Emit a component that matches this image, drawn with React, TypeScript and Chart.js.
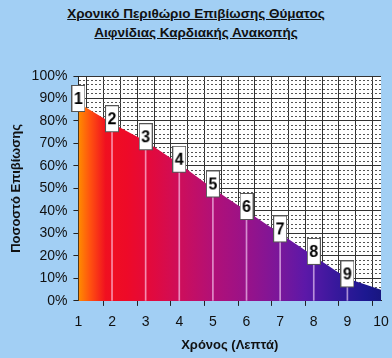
import React, { useEffect, useRef } from 'react';
import { Chart, registerables } from 'chart.js';
Chart.register(...registerables);

const titleLines = ['Χρονικό Περιθώριο Επιβίωσης Θύματος', 'Αιφνίδιας Καρδιακής Ανακοπής'];
const xTitle = 'Χρόνος (Λεπτά)';
const yTitle = 'Ποσοστό Επιβίωσης';
const minutes = [1, 2, 3, 4, 5, 6, 7, 8, 9, 10];
const survival = [88, 79, 71, 61, 50, 40, 30, 20, 10, 5];
const badgeMinutes = [1, 2, 3, 4, 5, 6, 7, 8, 9];
const badgeTexts = ['1', '2', '3', '4', '5', '6', '7', '8', '9'];
const markerMinutes = [2, 3, 4, 5, 6, 7, 8, 9];

const BG = '#a2cff4';

function makeBadge(text: string): HTMLCanvasElement {
  const c = document.createElement('canvas');
  c.width = 14;
  c.height = 36;
  const g = c.getContext('2d')!;
  g.fillStyle = '#ffffff';
  g.fillRect(0, 0, 14, 27);
  g.strokeStyle = '#555555';
  g.lineWidth = 1;
  g.strokeRect(0.5, 0.5, 13, 26);
  g.fillStyle = '#000000';
  g.font = 'bold 16px "Liberation Sans", Arial, sans-serif';
  g.textAlign = 'center';
  g.textBaseline = 'middle';
  g.fillText(text, 7, 14.5);
  return c;
}

function valueAt(m: number): number {
  return survival[minutes.indexOf(m)];
}

export default function App() {
  const ref = useRef<HTMLCanvasElement | null>(null);
  useEffect(() => {
    const badges = badgeTexts.map(makeBadge);
    const whiteArea = {
      id: 'whiteArea',
      beforeDraw(chart: any) {
        const { ctx, chartArea: a } = chart;
        ctx.save();
        ctx.fillStyle = '#ffffff';
        ctx.fillRect(a.left, a.top, a.right - a.left, a.bottom - a.top);
        ctx.restore();
      },
    };
    const chart = new Chart(ref.current!, {
      type: 'line',
      data: {
        datasets: [
          {
            type: 'line',
            order: 3,
            data: minutes.map((m, i) => ({ x: m, y: survival[i] })),
            fill: 'origin',
            borderWidth: 0,
            borderColor: 'rgba(0,0,0,0)',
            pointRadius: 0,
            tension: 0,
            backgroundColor: (ctx: any) => {
              const ca = ctx.chart.chartArea;
              if (!ca) return '#f01020';
              const g = ctx.chart.ctx.createLinearGradient(ca.left, 0, ca.right, 0);
              g.addColorStop(0, '#ff8c00');
              g.addColorStop(0.04, '#ff5010');
              g.addColorStop(0.09, '#f01020');
              g.addColorStop(0.16, '#ee0a28');
              g.addColorStop(0.25, '#e00a40');
              g.addColorStop(0.34, '#cc0e5c');
              g.addColorStop(0.45, '#b01078');
              g.addColorStop(0.55, '#9a1288');
              g.addColorStop(0.65, '#7e1698');
              g.addColorStop(0.75, '#5c18a8');
              g.addColorStop(0.85, '#38189c');
              g.addColorStop(0.95, '#1c1890');
              g.addColorStop(1, '#181680');
              return g;
            },
          } as any,
          {
            type: 'bar',
            order: 2,
            data: markerMinutes.map((m) => ({ x: m, y: valueAt(m) })),
            barThickness: 1,
            backgroundColor: 'rgba(255,225,255,0.6)',
            borderWidth: 0,
          } as any,
          {
            type: 'line',
            order: 1,
            data: badgeMinutes.map((m) => ({ x: m, y: valueAt(m) })),
            showLine: false,
            clip: false,
            pointRadius: 8,
            pointStyle: (ctx: any) => badges[ctx.dataIndex],
          } as any,
        ],
      },
      options: {
        animation: false,
        responsive: true,
        maintainAspectRatio: false,
        events: [],
        layout: { padding: { top: 76, right: 11, bottom: 3, left: 4 } },
        plugins: { legend: { display: false }, tooltip: { enabled: false } },
        scales: {
          x: {
            type: 'linear',
            min: 1,
            max: 10,
            offset: false,
            afterFit: (scale: any) => {
              scale.paddingLeft = 0;
              scale.paddingRight = 0;
            },
            ticks: {
              stepSize: 0.5,
              autoSkip: false,
              maxRotation: 0,
              padding: 8,
              color: '#111',
              font: { size: 14, family: '"Liberation Sans", Arial, sans-serif' },
              callback: (v: any) => (Number.isInteger(v) ? String(v) : ''),
            },
            grid: {
              color: '#333',
              lineWidth: 1,
              tickLength: 5,
              tickColor: (ctx: any) =>
                ctx.tick && Number.isInteger(ctx.tick.value) ? '#222' : 'rgba(0,0,0,0)',
            },
            border: { color: '#222', width: 1 },
            title: {
              display: true,
              text: xTitle,
              color: '#111',
              font: { size: 13, weight: 'bold', lineHeight: 1.1, family: '"Liberation Sans", Arial, sans-serif' },
              padding: { top: 0, bottom: 2 },
            },
          },
          y: {
            type: 'linear',
            min: 0,
            max: 100,
            ticks: {
              stepSize: 2,
              autoSkip: false,
              padding: 6,
              color: '#111',
              font: { size: 14, family: '"Liberation Sans", Arial, sans-serif' },
              callback: (v: any) => (v % 10 === 0 ? v + '%' : ''),
            },
            grid: {
              lineWidth: 1,
              tickLength: 5,
              color: (ctx: any) =>
                ctx.tick && ctx.tick.value % 10 === 0 ? '#333' : '#555',
              tickColor: (ctx: any) =>
                ctx.tick && ctx.tick.value % 10 === 0 ? '#222' : 'rgba(0,0,0,0)',
            },
            border: {
              color: '#222',
              width: 1,
              dash: (ctx: any) =>
                ctx.tick && ctx.tick.value % 10 !== 0 ? [2, 2] : [],
            },
            title: {
              display: true,
              text: yTitle,
              color: '#111',
              font: { size: 13, weight: 'bold', family: '"Liberation Sans", Arial, sans-serif' },
              padding: { top: 5, bottom: 1 },
            },
          },
        },
      } as any,
      plugins: [whiteArea],
    });
    return () => chart.destroy();
  }, []);

  return (
    <div
      style={{
        position: 'fixed',
        left: 0,
        top: 0,
        width: 392,
        height: 358,
        background: BG,
        overflow: 'hidden',
      }}
    >
      <div
        style={{
          position: 'absolute',
          left: 0,
          top: 4,
          width: 392,
          textAlign: 'center',
          fontFamily: '"Liberation Sans", Arial, sans-serif',
          fontWeight: 'bold',
          fontSize: 13.5,
          lineHeight: '19px',
          color: '#111',
          textDecoration: 'underline',
        }}
      >
        {titleLines.map((t) => (
          <div key={t}>{t}</div>
        ))}
      </div>
      <canvas ref={ref} style={{ position: 'absolute', left: 0, top: 0 }} />
    </div>
  );
}
